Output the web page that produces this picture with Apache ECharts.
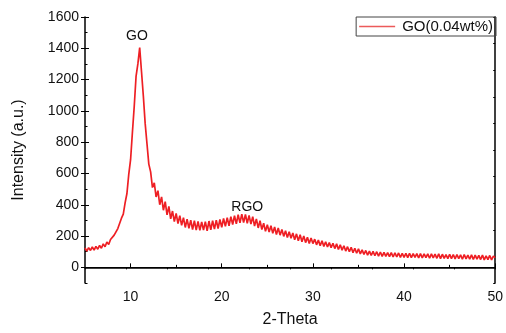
<!DOCTYPE html>
<html><head><meta charset="utf-8">
<script src="https://cdn.jsdelivr.net/npm/echarts@6/dist/echarts.min.js"></script>
<style>html,body{margin:0;padding:0;background:#fff}#c{width:506px;height:333px}</style>
</head><body><div id="c"></div>
<script>
const twoTheta = [
5,5.2,5.4,5.6,5.8,6,6.2,6.4,6.6,6.8,7,7.2,7.4,7.6,7.8,8,8.2,8.4,8.6,8.8,9,9.2,9.4,9.6,9.8,
10,10.2,10.4,10.6,10.8,11,11.2,11.4,11.6,11.8,12,12.2,12.4,12.6,12.8,13,13.2,13.4,13.6,13.8,14,14.2,14.4,14.6,14.8,
15,15.2,15.4,15.6,15.8,16,16.2,16.4,16.6,16.8,17,17.2,17.4,17.6,17.8,18,18.2,18.4,18.6,18.8,19,19.2,19.4,19.6,19.8,
20,20.2,20.4,20.6,20.8,21,21.2,21.4,21.6,21.8,22,22.2,22.4,22.6,22.8,23,23.2,23.4,23.6,23.8,24,24.2,24.4,24.6,24.8,
25,25.2,25.4,25.6,25.8,26,26.2,26.4,26.6,26.8,27,27.2,27.4,27.6,27.8,28,28.2,28.4,28.6,28.8,29,29.2,29.4,29.6,29.8,
30,30.2,30.4,30.6,30.8,31,31.2,31.4,31.6,31.8,32,32.2,32.4,32.6,32.8,33,33.2,33.4,33.6,33.8,34,34.2,34.4,34.6,34.8,
35,35.2,35.4,35.6,35.8,36,36.2,36.4,36.6,36.8,37,37.2,37.4,37.6,37.8,38,38.2,38.4,38.6,38.8,39,39.2,39.4,39.6,39.8,
40,40.2,40.4,40.6,40.8,41,41.2,41.4,41.6,41.8,42,42.2,42.4,42.6,42.8,43,43.2,43.4,43.6,43.8,44,44.2,44.4,44.6,44.8,
45,45.2,45.4,45.6,45.8,46,46.2,46.4,46.6,46.8,47,47.2,47.4,47.6,47.8,48,48.2,48.4,48.6,48.8,49,49.2,49.4,49.6,49.8,50];
const intensity = [
124,104,126,108,130,110,134,116,140,122,150,132,162,146,178,166,206,200,248,258,314,340,412,472,594,
688,862,1028,1220,1300,1405,1250,1095,920,790,660,610,510,540,450,490,400,450,365,420,335,390,310,360,292,
345,280,330,268,318,255,308,250,302,242,298,238,294,236,290,238,292,234,296,240,298,244,302,248,306,
256,312,262,318,266,324,274,330,278,336,284,340,286,338,282,332,276,324,264,310,252,298,242,282,230,
272,226,266,218,258,210,252,206,242,198,234,190,228,186,220,176,214,170,208,164,200,158,192,152,188,
152,180,144,174,138,170,134,164,130,158,126,154,120,150,114,144,110,138,104,132,100,128,94,122,90,
118,86,112,82,108,78,104,76,102,74,100,72,98,70,96,70,94,68,94,66,92,66,92,64,90,
64,90,62,90,62,88,64,88,60,88,60,86,62,86,58,86,60,84,58,86,56,84,58,82,56,
84,56,82,54,82,56,80,52,82,54,78,52,80,50,78,52,76,50,78,48,74,50,76,48,72,62];
const seriesName = 'GO(0.04wt%)';
const xMajorTicks = [10,20,30,40,50];
const xMinorTicks = [15,25,35,45];
const yMajorTicks = [0,200,400,600,800,1000,1200,1400,1600];
const yMinorTicks = [-100,100,300,500,700,900,1100,1300,1500];
const peakNames = ['GO','RGO'];
const peakX = [10.7,22.8];
const peakY = [1480,385];

const FONT = 'Liberation Sans, Arial, sans-serif';
const chart = echarts.init(document.getElementById('c'), null, {renderer:'canvas'});
const pts = twoTheta.map((x,i)=>[x,intensity[i]]);
const black = '#000';
chart.setOption({
  animation:false,
  backgroundColor:'#fff',
  grid:{left:85,right:8,top:17,bottom:46,containLabel:false},
  legend:{
    right:10, top:17, padding:[2,3,2,3], itemGap:0,
    borderColor:'#444', borderWidth:1, itemWidth:36, itemHeight:1.5, icon:'rect',
    textStyle:{fontSize:15,color:'#111',fontFamily:FONT,padding:[0,0,0,2]},
    data:[{name:seriesName,itemStyle:{color:'#ec5a5a'}}]
  },
  xAxis:[
    {type:'value',min:5,max:50,position:'bottom',
     axisLine:{show:true,lineStyle:{color:black,width:1.5}},
     axisTick:{show:true,inside:true,length:4,customValues:xMajorTicks,lineStyle:{color:black,width:1}},
     axisLabel:{show:true,customValues:xMajorTicks,fontSize:14,color:'#111',fontFamily:FONT,margin:7},
     splitLine:{show:false},
     name:'2-Theta',nameLocation:'middle',nameGap:29,
     nameTextStyle:{fontSize:16,color:'#111',fontFamily:FONT}},
    {type:'value',min:5,max:50,position:'bottom',
     axisLine:{show:false},
     axisTick:{show:true,inside:true,length:2.5,customValues:xMinorTicks,lineStyle:{color:black,width:1}},
     axisLabel:{show:false},splitLine:{show:false}},
    {type:'value',min:0,max:10,interval:1,position:'top',
     axisLine:{show:true,lineStyle:{color:black,width:1}},
     axisTick:{show:true,inside:true,length:2,lineStyle:{color:black,width:1}},
     axisLabel:{show:false},splitLine:{show:false}}
  ],
  yAxis:[
    {type:'value',min:-100,max:1600,position:'left',
     axisLine:{show:true,lineStyle:{color:black,width:1.5}},
     axisTick:{show:true,inside:false,length:4,customValues:yMajorTicks,lineStyle:{color:black,width:1}},
     axisLabel:{show:true,customValues:yMajorTicks,formatter:v=>String(v),fontSize:14,color:'#111',fontFamily:FONT,margin:6},
     splitLine:{show:false},
     name:'Intensity (a.u.)',nameLocation:'middle',nameGap:58,nameRotate:90,
     nameTextStyle:{fontSize:16,color:'#111',fontFamily:FONT}},
    {type:'value',min:-100,max:1600,position:'left',
     axisLine:{show:false},
     axisTick:{show:true,inside:true,length:4,customValues:yMajorTicks,lineStyle:{color:black,width:1}},
     axisLabel:{show:false},splitLine:{show:false}},
    {type:'value',min:-100,max:1600,position:'left',
     axisLine:{show:false},
     axisTick:{show:true,inside:true,length:2.5,customValues:yMinorTicks,lineStyle:{color:black,width:1}},
     axisLabel:{show:false},splitLine:{show:false}},
    {type:'value',min:0,max:10,interval:1,position:'right',
     axisLine:{show:true,lineStyle:{color:black,width:1.5}},
     axisTick:{show:true,inside:true,length:2,lineStyle:{color:black,width:1}},
     axisLabel:{show:false},splitLine:{show:false}}
  ],
  series:[{
    name:seriesName,type:'line',xAxisIndex:0,yAxisIndex:0,
    data:pts,symbol:'none',showSymbol:false,
    lineStyle:{color:'#ee1f24',width:1.7},itemStyle:{color:'#ee1f24'},
    markPoint:{
      symbol:'circle',symbolSize:1,itemStyle:{color:'rgba(0,0,0,0)'},
      label:{show:true,position:'inside',formatter:'{b}',fontSize:14,color:'#111',fontFamily:FONT},
      data:peakNames.map((n,i)=>({name:n,coord:[peakX[i],peakY[i]]}))
    }
  }]
});
</script></body></html>
